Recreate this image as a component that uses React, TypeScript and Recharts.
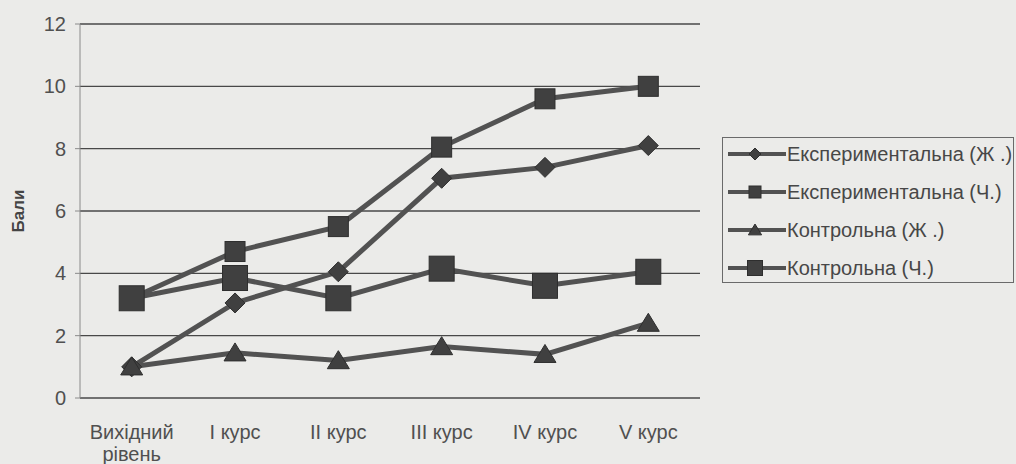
import { LineChart, Line, XAxis, YAxis, CartesianGrid } from 'recharts';

const categories = ['Вихідний рівень', 'I курс', 'II курс', 'III курс', 'IV курс', 'V курс'];
const expFemale = [1.0, 3.05, 4.05, 7.05, 7.4, 8.1];
const expMale = [3.2, 4.7, 5.5, 8.05, 9.6, 10.0];
const ctrlFemale = [1.0, 1.45, 1.2, 1.65, 1.4, 2.4];
const ctrlMale = [3.2, 3.85, 3.2, 4.15, 3.6, 4.05];
const yTicks = [0, 2, 4, 6, 8, 10, 12];
const bandEdges = [0, 1, 2, 3, 4, 5, 6];

const seriesNames = ['Експериментальна (Ж .)', 'Експериментальна (Ч.)', 'Контрольна (Ж .)', 'Контрольна (Ч.)'];

const data = categories.map((c, i) => ({
  name: c,
  ef: expFemale[i],
  em: expMale[i],
  cf: ctrlFemale[i],
  cm: ctrlMale[i],
}));

const LINE = '#525252';
const MARK = '#404040';
const FONT = 'Arial, "Liberation Sans", sans-serif';

type Shape = 'diamond' | 'square' | 'triangle' | 'bigsquare';

function marker(shape: Shape, cx: number, cy: number, k = 1, key?: string) {
  const st = { fill: MARK, stroke: '#2e2e2e', strokeWidth: 1 };
  if (shape === 'diamond') {
    const r = 10 * k;
    return <path key={key} d={`M${cx},${cy - r}L${cx + r},${cy}L${cx},${cy + r}L${cx - r},${cy}Z`} {...st} />;
  }
  if (shape === 'square') {
    const s = 10 * k;
    return <rect key={key} x={cx - s} y={cy - s} width={s * 2} height={s * 2} {...st} />;
  }
  if (shape === 'bigsquare') {
    const s = 12.5 * k;
    return <rect key={key} x={cx - s} y={cy - s} width={s * 2} height={s * 2} {...st} />;
  }
  const w = 11 * k;
  const h = 18 * k;
  return <path key={key} d={`M${cx},${cy - h * 0.55}L${cx + w},${cy + h * 0.45}L${cx - w},${cy + h * 0.45}Z`} {...st} />;
}

const dotFor = (shape: Shape) => (props: any) => marker(shape, props.cx, props.cy, 1, `${shape}-${props.index}`);

const XTick = (props: any) => {
  const { x, y, payload } = props;
  const lines = payload.value === 'Вихідний рівень' ? payload.value.split(' ') : [payload.value];
  return (
    <text x={x} y={y + 33} textAnchor="middle" fill="#505050" fontSize={20} fontFamily={FONT}>
      {lines.map((l: string, i: number) => (
        <tspan key={i} x={x} dy={i === 0 ? 0 : 22}>{l}</tspan>
      ))}
    </text>
  );
};

const shapes: Shape[] = ['diamond', 'square', 'triangle', 'bigsquare'];

const LegendBox = () => (
  <div style={{ position: 'absolute', left: 722, top: 137, border: '1px solid #6a6a6a', width: 292, height: 146, boxSizing: 'border-box', padding: '0 0 0 4px', fontFamily: FONT }}>
    {seriesNames.map((n, i) => (
      <div key={n} style={{ display: 'flex', alignItems: 'center', height: 38, marginTop: i === 0 ? -3 : 0 }}>
        <svg width={60} height={24} style={{ flex: 'none' }}>
          <line x1={1} y1={12} x2={59} y2={12} stroke={LINE} strokeWidth={4} />
          {marker(shapes[i], 28, 12, 0.6)}
        </svg>
        <span style={{ fontSize: 20, color: '#474747', whiteSpace: 'nowrap' }}>{n}</span>
      </div>
    ))}
  </div>
);

export default function App() {
  return (
    <div style={{ position: 'absolute', left: 0, top: 0, width: 1016, height: 464, background: '#ebebe9' }}>
      <LineChart width={1016} height={464} data={data} margin={{ top: 24, right: 316, left: 0, bottom: 0 }}>
        <CartesianGrid horizontal vertical={false} stroke="#484848" strokeWidth={1.3} />
        <XAxis
          xAxisId="edges"
          type="number"
          domain={[0, 6]}
          ticks={bandEdges}
          tick={false}
          height={0}
          tickSize={5}
          tickLine={{ stroke: '#8a8a8a' }}
          axisLine={{ stroke: '#8a8a8a' }}
        />
        <XAxis
          dataKey="name"
          height={66}
          tick={<XTick />}
          tickLine={false}
          axisLine={false}
          interval={0}
          padding={{ left: 51.7, right: 51.7 }}
        />
        <YAxis
          width={80}
          domain={[0, 12]}
          ticks={yTicks}
          tick={{ fontSize: 20, fill: '#505050', fontFamily: FONT }}
          tickLine={{ stroke: '#8a8a8a' }}
          tickSize={5}
          tickMargin={9}
          axisLine={{ stroke: '#8a8a8a' }}
          label={{ value: 'Бали', angle: -90, position: 'insideLeft', offset: 18, style: { fontSize: 17, fontWeight: 'bold', fill: '#444', fontFamily: FONT, textAnchor: 'middle' } }}
        />
        <Line dataKey="ef" name={seriesNames[0]} stroke={LINE} strokeWidth={5} dot={dotFor('diamond')} isAnimationActive={false} />
        <Line dataKey="em" name={seriesNames[1]} stroke={LINE} strokeWidth={5} dot={dotFor('square')} isAnimationActive={false} />
        <Line dataKey="cf" name={seriesNames[2]} stroke={LINE} strokeWidth={5} dot={dotFor('triangle')} isAnimationActive={false} />
        <Line dataKey="cm" name={seriesNames[3]} stroke={LINE} strokeWidth={5} dot={dotFor('bigsquare')} isAnimationActive={false} />
      </LineChart>
      <LegendBox />
    </div>
  );
}
